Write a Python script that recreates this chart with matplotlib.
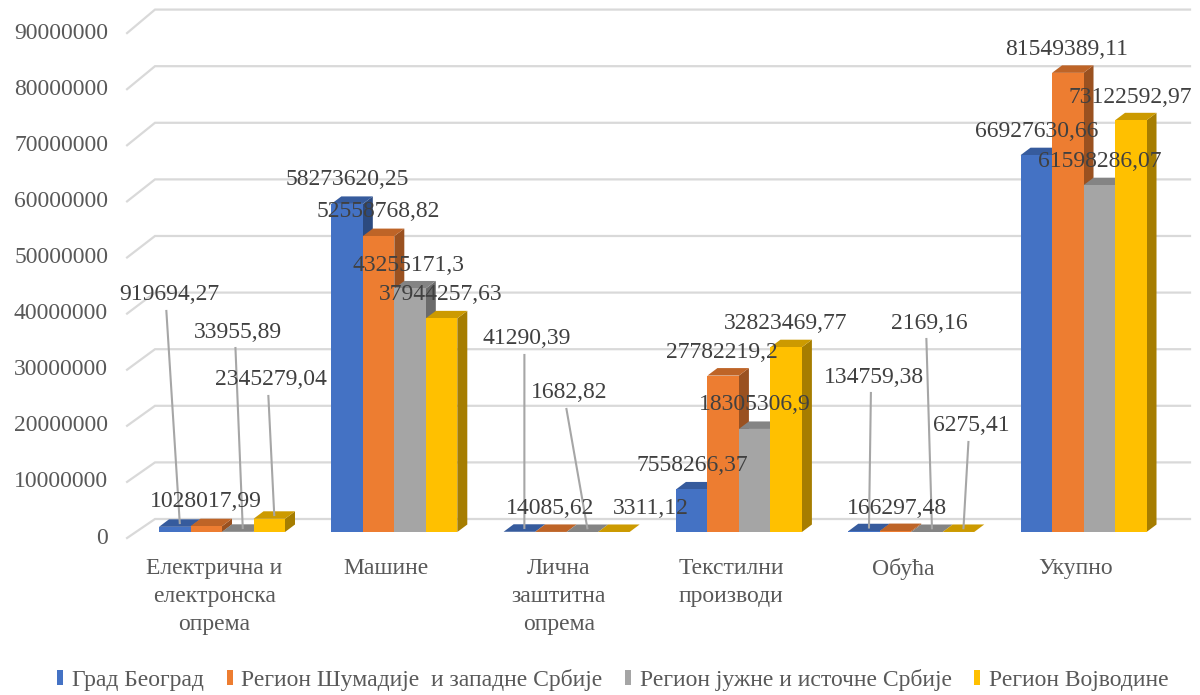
import matplotlib
matplotlib.use('Agg')
import matplotlib.pyplot as plt
from matplotlib.patches import Polygon, Patch
import numpy as np

# ---------------- data ----------------
categories = ['Електрична и\nелектронска\nопрема', 'Машине', 'Лична\nзаштитна\nопрема',
              'Текстилни\nпроизводи', 'Обућа', 'Укупно']
series_names = ['Град Београд', 'Регион Шумадије  и западне Србије',
                'Регион јужне и источне Србије', 'Регион Војводине']
beograd = [919694.27, 58273620.25, 41290.39, 7558266.37, 134759.38, 66927630.66]
sumadija = [1028017.99, 52558768.82, 14085.62, 27782219.2, 166297.48, 81549389.11]
jug = [33955.89, 43255171.3, 1682.82, 18305306.9, 2169.16, 61598286.07]
vojvodina = [2345279.04, 37944257.63, 3311.12, 32823469.77, 6275.41, 73122592.97]
y_ticks = [0, 10000000, 20000000, 30000000, 40000000, 50000000,
           60000000, 70000000, 80000000, 90000000]

# ---------------- layout / style ----------------
colors = ['#4472C4', '#ED7D31', '#A5A5A5', '#FFC000']
FONT = 'Liberation Serif'
FS = 17
BAR_W = 0.1828
DEPTH_X = 0.058
DEPTH_Y = 1.332e6
BACK_X0, BACK_X1 = -0.389, 5.618
BACK_SHIFT, BACK_SCALE = 2.309e6, 1.00533
FRONT_X = -0.551
FRONT_SHIFT, FRONT_SCALE = -1.066e6, 0.99645

# label placement (category units, millions) for each series, and leader flags
label_pos = [
    [(-0.308, 42.10), (0.725, 62.52), (1.770, 34.28), (2.731, 11.90), (3.781, 27.53), (4.730, 71.05)],
    [(-0.093, 5.33), (0.905, 56.84), (1.904, 4.26), (2.902, 31.97), (3.915, 4.26), (4.904, 85.61)],
    [(0.093, 35.52), (1.085, 47.42), (2.014, 24.69), (3.093, 22.56), (4.103, 37.12), (5.096, 65.72)],
    [(0.284, 27.00), (1.271, 42.10), (2.490, 4.26), (3.273, 37.12), (4.347, 18.83), (5.270, 77.26)],
]
leaders = [
    [True, False, True, False, True, False],
    [False, False, False, False, False, False],
    [True, False, True, False, True, False],
    [True, False, False, False, True, False],
]


def shade(c, f):
    r, g, b = matplotlib.colors.to_rgb(c)
    return (r * f, g * f, b * f)


def fmt(v):
    s = f"{v:.2f}".rstrip('0').rstrip('.')
    return s.replace('.', ',')


fig = plt.figure(figsize=(12, 6.95), dpi=100)
ax = fig.add_axes([0, 0, 1, 1])
ax.set_xlim(-1.2885, 5.676)
ax.set_ylim(-28.95e6, 94.49e6)
ax.axis('off')

# gridlines (back wall + side wall)
for t in y_ticks:
    yb = BACK_SHIFT + BACK_SCALE * t
    yf = FRONT_SHIFT + FRONT_SCALE * t
    ax.plot([FRONT_X, BACK_X0, BACK_X1], [yf, yb, yb], color='#D9D9D9', lw=1.6,
            zorder=1, solid_joinstyle='miter')
    ax.text(FRONT_X - 0.11, yf, str(t), ha='right', va='center', fontsize=FS,
            family=FONT, color='#595959')

series = [beograd, sumadija, jug, vojvodina]
x = np.arange(len(categories))
for j, vals in enumerate(series):
    base = 2 + 3 * j
    xc = x + (j - 1.5) * BAR_W
    ax.bar(xc, vals, width=BAR_W, color=colors[j], linewidth=0, zorder=base + 2)
    for xi, v in zip(xc, vals):
        x0, x1 = xi - BAR_W / 2, xi + BAR_W / 2
        top = Polygon([(x0, v), (x1, v), (x1 + DEPTH_X, v + DEPTH_Y), (x0 + DEPTH_X, v + DEPTH_Y)],
                      closed=True, facecolor=shade(colors[j], 0.8), edgecolor='none', zorder=base + 1)
        side = Polygon([(x1, 0), (x1, v), (x1 + DEPTH_X, v + DEPTH_Y), (x1 + DEPTH_X, DEPTH_Y)],
                       closed=True, facecolor=shade(colors[j], 0.65), edgecolor='none', zorder=base)
        ax.add_patch(top)
        ax.add_patch(side)

# data labels
for j, vals in enumerate(series):
    for i, v in enumerate(vals):
        lx, ly = label_pos[j][i]
        ly *= 1e6
        if leaders[j][i]:
            bx = i + (j - 1.5) * BAR_W + DEPTH_X / 2
            ax.plot([lx - 0.015, bx], [ly - 2.84e6, v + DEPTH_Y / 2], color='#A6A6A6',
                    lw=1.5, zorder=30)
        ax.text(lx, ly, fmt(v), ha='center', va='center', fontsize=FS, family=FONT,
                color='#404040', zorder=40)

# category labels
for i, c in enumerate(categories):
    ax.text(i - 0.046, -4.6e6, c, ha='center', va='top', fontsize=FS, family=FONT,
            color='#595959', linespacing=1.45)

handles = [Patch(facecolor=colors[j], edgecolor='none') for j in range(4)]
fig.legend(handles, series_names, loc='center', bbox_to_anchor=(0.511, 0.022), ncol=4,
           frameon=False, prop={'family': FONT, 'size': FS}, handlelength=0.25,
           handleheight=0.6, handletextpad=0.38, columnspacing=0.95, borderpad=0,
           labelcolor='#595959')

fig.savefig('out.png', dpi=100)
